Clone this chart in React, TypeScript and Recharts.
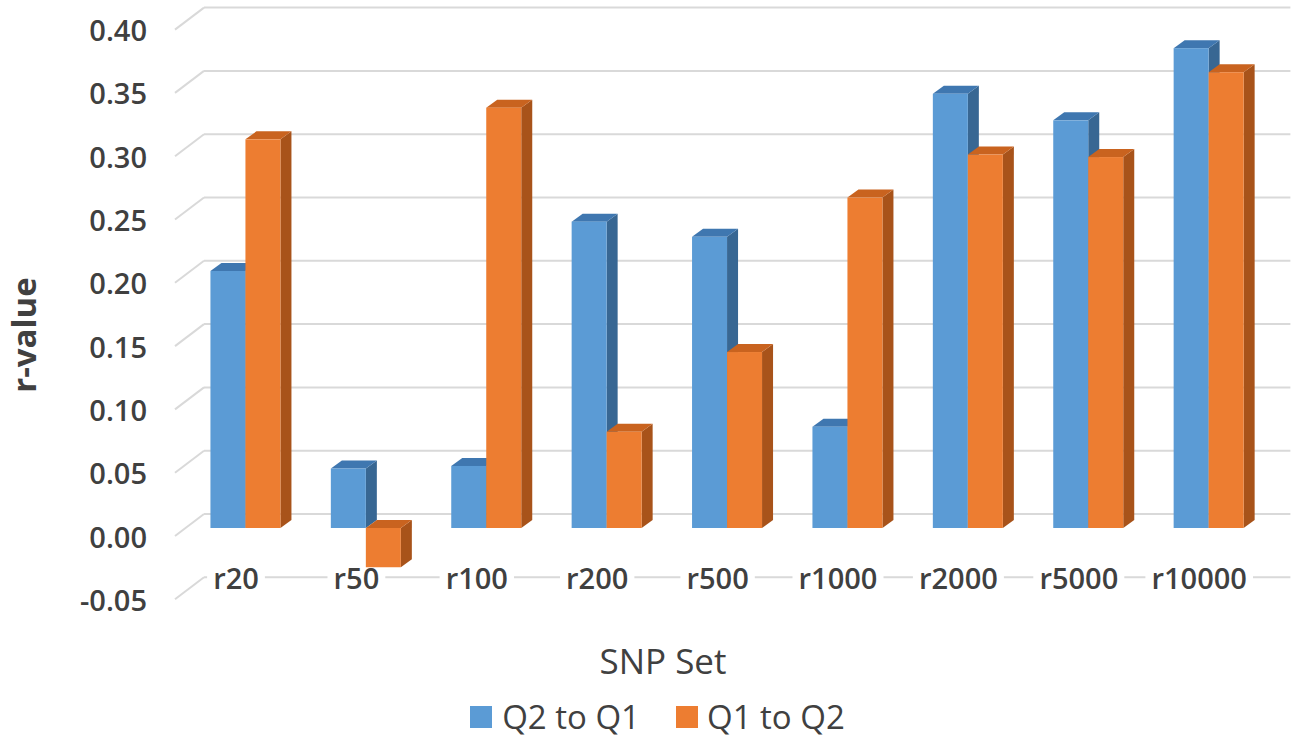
import React from 'react';
import { BarChart, Bar, XAxis, YAxis, CartesianGrid, Legend } from 'recharts';

const categories = ['r20', 'r50', 'r100', 'r200', 'r500', 'r1000', 'r2000', 'r5000', 'r10000'];
const q2ToQ1 = [0.203, 0.047, 0.049, 0.242, 0.23, 0.08, 0.343, 0.322, 0.379];
const q1ToQ2 = [0.307, -0.031, 0.332, 0.076, 0.139, 0.261, 0.295, 0.293, 0.36];
const yTicks = [-0.05, 0, 0.05, 0.1, 0.15, 0.2, 0.25, 0.3, 0.35, 0.4];
const seriesNames = ['Q2 to Q1', 'Q1 to Q2'];

const data = categories.map((name, i) => ({ name, q2: q2ToQ1[i], q1: q1ToQ2[i] }));

const FONT = '"Open Sans", "Noto Sans", sans-serif';
const TEXT = '#404040';
const GRID = '#d9d9d9';
const DX = 11;
const DY = -8;
const BACK_DX = 29;
const BACK_DY = -22;

const COLORS = {
  blue: { front: '#5b9bd5', top: '#3f77b0', side: '#386793' },
  orange: { front: '#ed7d31', top: '#c9631f', side: '#a8531a' },
};

const make3D = (c: { front: string; top: string; side: string }) => (props: any) => {
  const { x, y, width, height } = props;
  if (x == null || y == null) return <g />;
  const top = Math.min(y, y + height);
  const bottom = Math.max(y, y + height);
  const w = width;
  return (
    <g>
      <polygon
        points={`${x + w},${top} ${x + w + DX},${top + DY} ${x + w + DX},${bottom + DY} ${x + w},${bottom}`}
        fill={c.side}
      />
      <polygon
        points={`${x},${top} ${x + DX},${top + DY} ${x + w + DX},${top + DY} ${x + w},${top}`}
        fill={c.top}
      />
      <rect x={x} y={top} width={w} height={bottom - top} fill={c.front} />
    </g>
  );
};

const gridLine = (props: any) => {
  const { y1, x2, key } = props;
  const frontX = 175;
  const frontY = y1 + 8;
  const backX = frontX + BACK_DX;
  const backY = frontY + BACK_DY;
  return (
    <g key={key}>
      <line x1={frontX} y1={frontY} x2={backX} y2={backY} stroke={GRID} strokeWidth={2} />
      <line x1={backX} y1={backY} x2={x2 + 22} y2={backY} stroke={GRID} strokeWidth={2} />
    </g>
  );
};

const YTick = (props: any) => {
  const { y, payload } = props;
  return (
    <text
      x={147}
      y={y + 8}
      textAnchor="end"
      dominantBaseline="central"
      fontFamily={FONT}
      fontSize={29}
      fontWeight={600}
      fill={TEXT}
    >
      {Number(payload.value).toFixed(2)}
    </text>
  );
};

const XTick = (props: any) => {
  const { x, y, payload } = props;
  const label = String(payload.value);
  const w = label.length * 16.6 + 8;
  const cx = x - 9;
  const cy = y - 14;
  return (
    <g>
      <rect x={cx - w / 2} y={cy - 8} width={w} height={16} fill="#ffffff" />
      <text
        x={cx}
        y={cy}
        textAnchor="middle"
        dominantBaseline="central"
        fontFamily={FONT}
        fontSize={29}
        fontWeight={600}
        fill={TEXT}
      >
        {label}
      </text>
    </g>
  );
};

const LegendContent = () => {
  const cols = [COLORS.blue.front, COLORS.orange.front];
  return (
    <div
      style={{
        display: 'flex',
        justifyContent: 'center',
        alignItems: 'center',
        paddingLeft: 16,
        fontFamily: FONT,
        fontSize: 33,
        color: TEXT,
        lineHeight: '34px',
        height: 34,
      }}
    >
      {seriesNames.map((n, i) => (
        <div key={n} style={{ display: 'flex', alignItems: 'center', marginRight: i === 0 ? 36 : 0 }}>
          <div style={{ width: 22, height: 22, background: cols[i], marginRight: i === 0 ? 10 : 9 }} />
          <span>{n}</span>
        </div>
      ))}
    </div>
  );
};

export default function App() {
  return (
    <div style={{ position: 'absolute', left: 0, top: 0, width: 1299, height: 740, background: '#fff' }}>
      <BarChart
        width={1299}
        height={740}
        data={data}
        margin={{ top: 21.6, right: 30.6, left: 104.8, bottom: 118.7 }}
        barCategoryGap="21.3%"
        barGap={0}
      >
        <CartesianGrid vertical={false} horizontal={gridLine} />
        <XAxis
          dataKey="name"
          axisLine={false}
          tickLine={false}
          tickSize={0}
          tickMargin={0}
          interval={0}
          height={30}
          tick={XTick}
          label={{
            content: () => (
              <text x={663} y={660} textAnchor="middle" dominantBaseline="central" fontFamily={FONT} fontSize={35} fill={TEXT}>
                SNP Set
              </text>
            ),
          }}
        />
        <YAxis
          type="number"
          domain={[-0.05, 0.4]}
          ticks={yTicks}
          interval={0}
          allowDataOverflow
          axisLine={false}
          tickLine={false}
          width={80}
          tick={YTick}
          label={{
            content: () => (
              <text
                x={23}
                y={335}
                transform="rotate(-90 23 335)"
                textAnchor="middle"
                dominantBaseline="central"
                fontFamily={FONT}
                fontSize={33}
                fontWeight={700}
                fill={TEXT}
              >
                r-value
              </text>
            ),
          }}
        />
        <Legend
          layout="vertical"
          align="center"
          verticalAlign="middle"
          wrapperStyle={{ left: 0, top: 700, width: 1299, height: 34 }}
          content={LegendContent}
        />
        <Bar dataKey="q2" name={seriesNames[0]} fill={COLORS.blue.front} shape={make3D(COLORS.blue)} isAnimationActive={false} />
        <Bar dataKey="q1" name={seriesNames[1]} fill={COLORS.orange.front} shape={make3D(COLORS.orange)} isAnimationActive={false} />
      </BarChart>
    </div>
  );
}
